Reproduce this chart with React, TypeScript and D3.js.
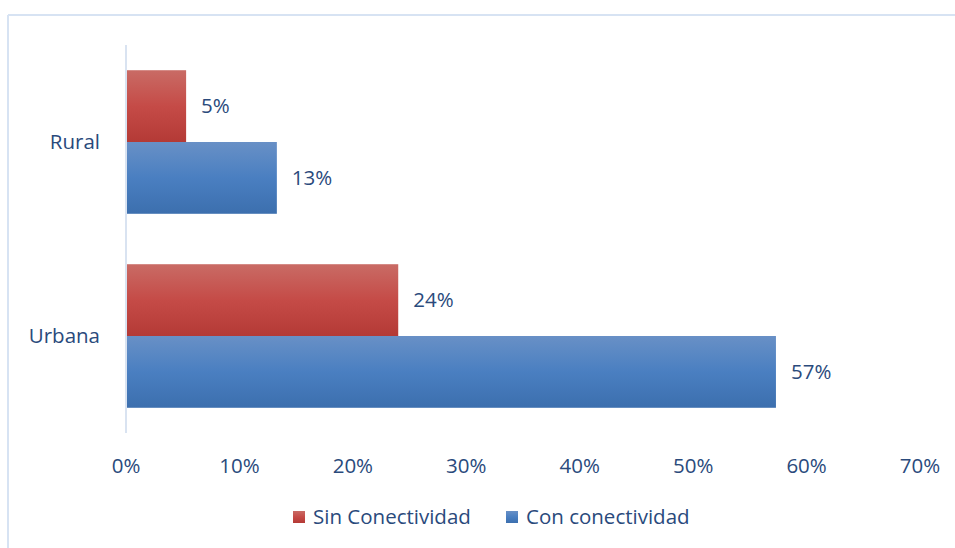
import React from "react";
import * as d3 from "d3";

const categories = ["Rural", "Urbana"];
const seriesNames = ["Sin Conectividad", "Con conectividad"];
const sinConectividad = [0.053, 0.24];
const conConectividad = [0.133, 0.573];
const valueLabels = [["5%", "24%"], ["13%", "57%"]];
const xTicks = [0, 0.1, 0.2, 0.3, 0.4, 0.5, 0.6, 0.7];

const W = 955, H = 548;
const FONT = "'Open Sans', Lato, sans-serif";
const FS = 20.5;
const TEXT = "#2a4a7c";

export default function App() {
  const x = d3.scaleLinear().domain([0, 0.7]).range([126, 920]);
  const y = d3.scaleBand().domain(categories).range([45, 433]).paddingInner(0.26).paddingOuter(0.13);
  const y1 = d3.scaleBand().domain(seriesNames).range([0, y.bandwidth()]);
  const series = [sinConectividad, conConectividad];
  const fills = ["url(#gRed)", "url(#gBlue)"];

  return (
    <svg width={W} height={H} style={{ position: "absolute", left: 0, top: 0, background: "#fff" }}>
      <defs>
        <linearGradient id="gRed" x1="0" y1="0" x2="0" y2="1">
          <stop offset="0" stopColor="#c96b65" />
          <stop offset="0.5" stopColor="#c54b47" />
          <stop offset="1" stopColor="#b43a36" />
        </linearGradient>
        <linearGradient id="gBlue" x1="0" y1="0" x2="0" y2="1">
          <stop offset="0" stopColor="#6890c6" />
          <stop offset="0.5" stopColor="#4a7fc1" />
          <stop offset="1" stopColor="#3c6fae" />
        </linearGradient>
      </defs>
      <line x1={8} y1={15} x2={W} y2={15} stroke="#d7e3f3" strokeWidth={2} />
      <line x1={8} y1={15} x2={8} y2={H} stroke="#d7e3f3" strokeWidth={2} />
      <line x1={x(0)} y1={45} x2={x(0)} y2={433} stroke="#d9e3f1" strokeWidth={2} />
      {categories.map((c, i) => (
        <g key={c}>
          {series.map((s, j) => {
            const by = (y(c) as number) + (y1(seriesNames[j]) as number);
            return (
              <g key={j}>
                <rect x={x(0) + 1} y={by} width={x(s[i]) - x(0) - 1} height={y1.bandwidth()} fill={fills[j]} />
                <text x={x(s[i]) + 15} y={by + y1.bandwidth() / 2} dy="0.35em" fontFamily={FONT} fontSize={FS} fill={TEXT}>
                  {valueLabels[j][i]}
                </text>
              </g>
            );
          })}
          <text x={100} y={(y(c) as number) + y.bandwidth() / 2} dy="0.35em" textAnchor="end" fontFamily={FONT} fontSize={FS} fill={TEXT}>
            {c}
          </text>
        </g>
      ))}
      {xTicks.map((t) => (
        <text key={t} x={x(t)} y={466} dy="0.35em" textAnchor="middle" fontFamily={FONT} fontSize={FS} fill={TEXT}>
          {d3.format(".0%")(t)}
        </text>
      ))}
      <g>
        <rect x={293} y={511} width={12} height={12} fill="url(#gRed)" />
        <text x={313} y={517} dy="0.35em" fontFamily={FONT} fontSize={FS} fill={TEXT}>{seriesNames[0]}</text>
        <rect x={506} y={511} width={12} height={12} fill="url(#gBlue)" />
        <text x={526} y={517} dy="0.35em" fontFamily={FONT} fontSize={FS} fill={TEXT}>{seriesNames[1]}</text>
      </g>
    </svg>
  );
}
